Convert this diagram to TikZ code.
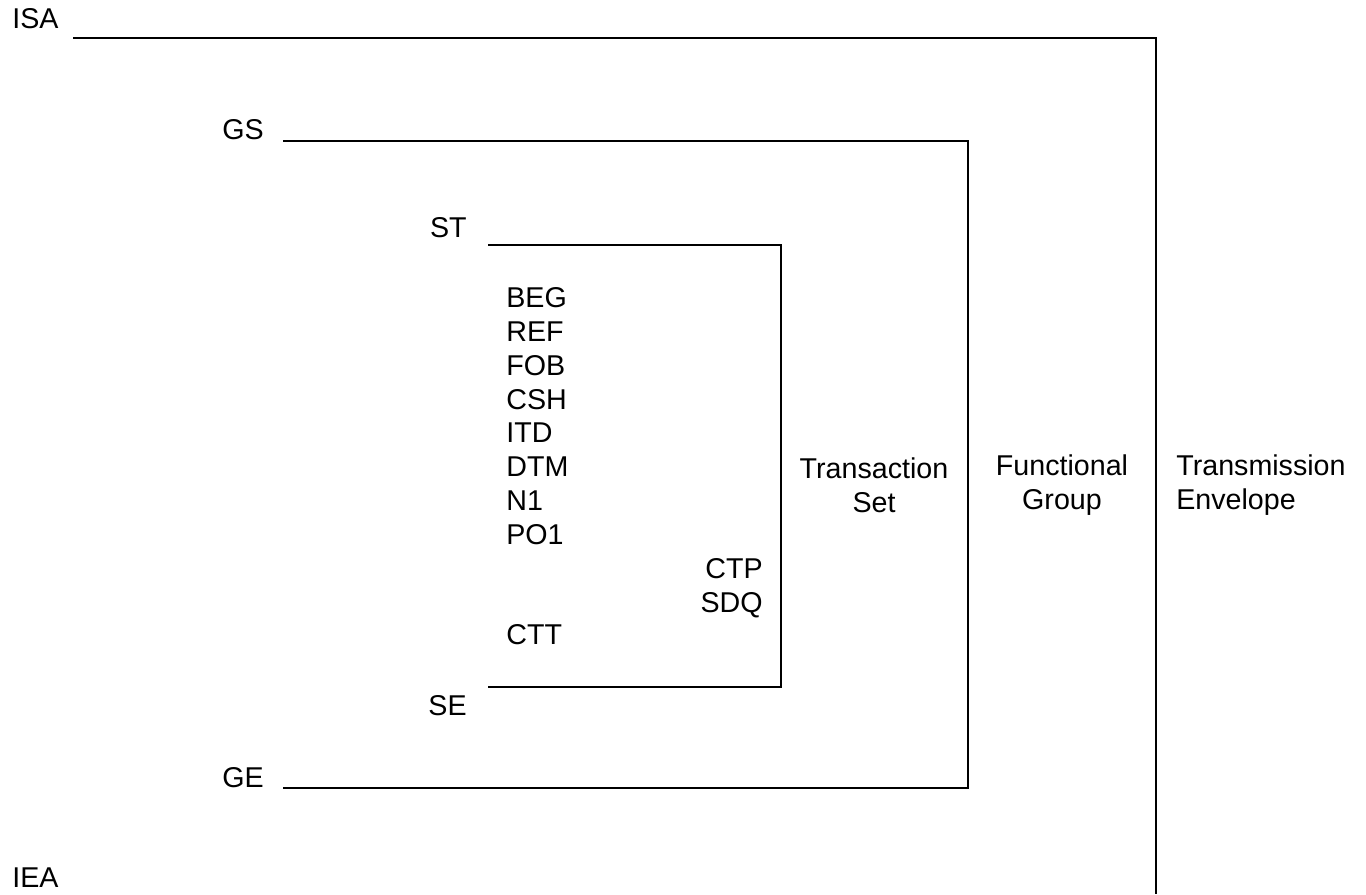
\documentclass[tikz,border=0pt]{standalone}
\usepackage{fontspec}
\setmainfont{Liberation Sans}
\usetikzlibrary{positioning}

\begin{document}
\begin{tikzpicture}[
    x=0.02cm, y=-0.02cm,
    seg/.style={inner sep=0pt, font=\fontsize{16.3pt}{19.3pt}\selectfont, align=left},
    tag/.style={seg, anchor=west},
    rtag/.style={seg, anchor=east},
    lvl/.style={seg, align=center},
    wall/.style={line width=1.3pt},
]
\useasboundingbox (0,0) rectangle (1366,894);
% outer envelope ISA / IEA
\node[tag] (isa) at (12,19) {ISA};
\node[tag] (iea) at (12,878) {IEA};
\coordinate (isaA) at (73,38);
\coordinate (isaB) at (1156,38);
\coordinate (isaC) at (1156,894);
\draw[wall] (isaA) -- (isaB) -- (isaC);
% functional group GS / GE
\node[rtag] (gs) at (264,130) {GS};
\node[rtag] (ge) at (264,778) {GE};
\coordinate (gsA) at (283,141);
\coordinate (gsB) at (968,141);
\coordinate (gsC) at (968,788);
\coordinate (gsD) at (283,788);
\draw[wall] (gsA) -- (gsB) -- (gsC) -- (gsD);
% transaction set ST / SE
\node[rtag] (st) at (467,228) {ST};
\node[rtag] (se) at (467,706) {SE};
\coordinate (stA) at (488,245);
\coordinate (stB) at (781,245);
\coordinate (stC) at (781,687);
\coordinate (stD) at (488,687);
\draw[wall] (stA) -- (stB) -- (stC) -- (stD);
% segments
\node[tag, anchor=north west] (head) at (506,287)
  {BEG\\REF\\FOB\\CSH\\ITD\\DTM\\N1\\PO1};
\node[rtag, anchor=north east, align=right] (loop) at (763,558) {CTP\\SDQ};
\node[tag] (ctt) at (506,635) {CTT};
% level names
\node[lvl] (tset) at (874,485) {Transaction\\Set};
\node[lvl] (fgrp) at (1062,485) {Functional\\Group};
\node[lvl, anchor=west, align=left] (tenv) at (1176,485) {Transmission\\Envelope};
\end{tikzpicture}
\end{document}
